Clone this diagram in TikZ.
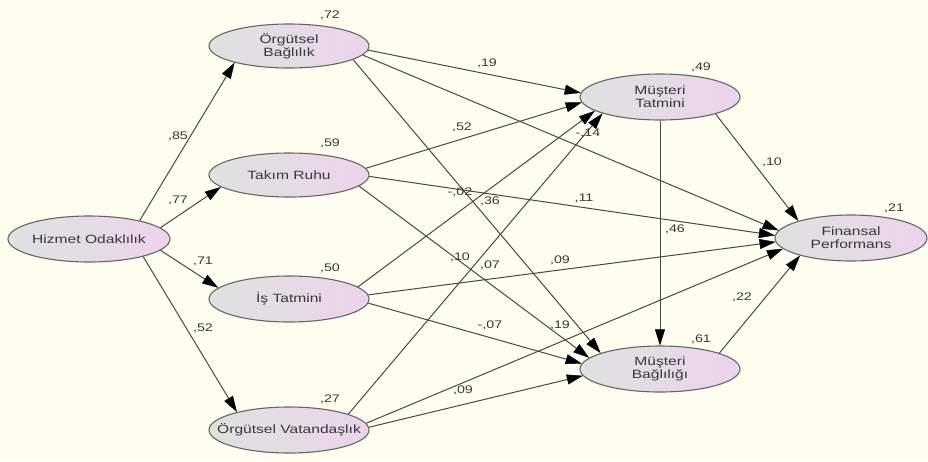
\documentclass[tikz,border=0pt]{standalone}
\usepackage{fontspec}
\setmainfont[FakeStretch=1.3]{Liberation Sans}
\usetikzlibrary{shapes.geometric,arrows.meta}
\definecolor{bgcol}{HTML}{FEFEF0}
\definecolor{lgray}{HTML}{DEE2E0}
\definecolor{lpink}{HTML}{ECD4EC}
\definecolor{bordercol}{HTML}{666666}
\definecolor{edgecol}{HTML}{484848}
\definecolor{txtcol}{HTML}{383838}
\begin{document}
\begin{tikzpicture}[x=1pt,y=-1pt,
  latent/.style={ellipse, draw=bordercol, line width=1.1pt, left color=lgray, right color=lpink,
    minimum width=160pt, minimum height=46pt, inner sep=0pt},
  latentname/.style={align=center, inner sep=0pt, text=txtcol, font=\fontsize{12}{13}\selectfont},
  coef/.style={inner sep=0pt, text=txtcol, font=\fontsize{11}{12}\selectfont},
  regpath/.style={draw=edgecol, line width=1pt, -{Triangle[length=16pt,width=10pt,color=black,line width=0.4pt]}}]
\fill[bgcol] (0,0) rectangle (928,461);
\useasboundingbox (0,0) rectangle (928,461);

% latent variables
\node[latent, minimum width=162pt] (HO) at (89,239) {};
\node[latent, minimum height=44pt] (OB) at (289,46) {};
\node[latent, minimum height=44pt] (TR) at (289,175) {};
\node[latent] (IT) at (289,299) {};
\node[latent] (OV) at (289,430) {};
\node[latent] (MT) at (660,97) {};
\node[latent] (MB) at (660,369) {};
\node[latent, minimum width=152pt] (FP) at (851,238) {};

\node[latentname] (HOt) at (HO) {Hizmet Odaklılık};
\node[latentname] (OBt) at (OB) {Örgütsel\\Bağlılık};
\node[latentname] (TRt) at (TR) {Takım Ruhu};
\node[latentname] (ITt) at (IT) {İş Tatmini};
\node[latentname] (OVt) at (OV) {Örgütsel Vatandaşlık};
\node[latentname] (MTt) at (MT) {Müşteri\\Tatmini};
\node[latentname] (MBt) at (MB) {Müşteri\\Bağlılığı};
\node[latentname] (FPt) at (FP) {Finansal\\Performans};

% paths
\draw[regpath] (HO.20) -- (OB.-163);
\draw[regpath] (HO.9) -- (TR.190);
\draw[regpath] (HO.-9) -- (IT.171);
\draw[regpath] (HO.-18) -- (OV.161);

\draw[regpath] (OB.-3) -- (MT.177);
\draw[regpath] (OB.-7) -- (FP.174);
\draw[regpath] (OB.-12) -- (MB.165);

\draw[regpath] (TR.5) -- (MT.184);
\draw[regpath] (TR.-1.5) -- (FP.178);
\draw[regpath] (TR.-9) -- (MB.171);

\draw[regpath] (IT.10) -- (MT.192);
\draw[regpath] (IT.3) -- (FP.183);
\draw[regpath] (IT.-3) -- (MB.176);

\draw[regpath] (OV.15) -- (MT.196);
\draw[regpath] (OV.5) -- (FP.189);
\draw[regpath] (OV.2) -- (MB.185);

\draw[regpath] (MT.-17) -- (FP.162);
\draw[regpath] (MT.south) -- (MB.north);
\draw[regpath] (MB.15) -- (FP.199);

% squared multiple correlations
\node[coef] (r1) at (330,15) {,72};
\node[coef] (r2) at (330,143) {,59};
\node[coef] (r3) at (330,268) {,50};
\node[coef] (r4) at (330,399) {,27};
\node[coef] (r5) at (701,67) {,49};
\node[coef] (r6) at (701,339) {,61};
\node[coef] (r7) at (894,208) {,21};

% path coefficients
\node[coef] (c1) at (178,136) {,85};
\node[coef] (c2) at (178,200) {,77};
\node[coef] (c3) at (203,261) {,71};
\node[coef] (c4) at (203,328) {,52};
\node[coef] (c5) at (487,63) {,19};
\node[coef] (c6) at (462,127) {,52};
\node[coef] (c7) at (772,162) {,10};
\node[coef] (c8) at (584,198) {,11};
\node[coef] (c9) at (460,192) {-,02};
\node[coef] (c10) at (490,201) {,36};
\node[coef] (c11) at (460,257) {,10};
\node[coef] (c12) at (490,265) {,07};
\node[coef] (c13) at (560,260) {,09};
\node[coef] (c14) at (490,325) {-,07};
\node[coef] (c15) at (560,325) {,19};
\node[coef] (c16) at (588,133) {-,14};
\node[coef] (c17) at (675,229) {,46};
\node[coef] (c18) at (742,297) {,22};
\node[coef] (c19) at (463,390) {,09};
\end{tikzpicture}
\end{document}
